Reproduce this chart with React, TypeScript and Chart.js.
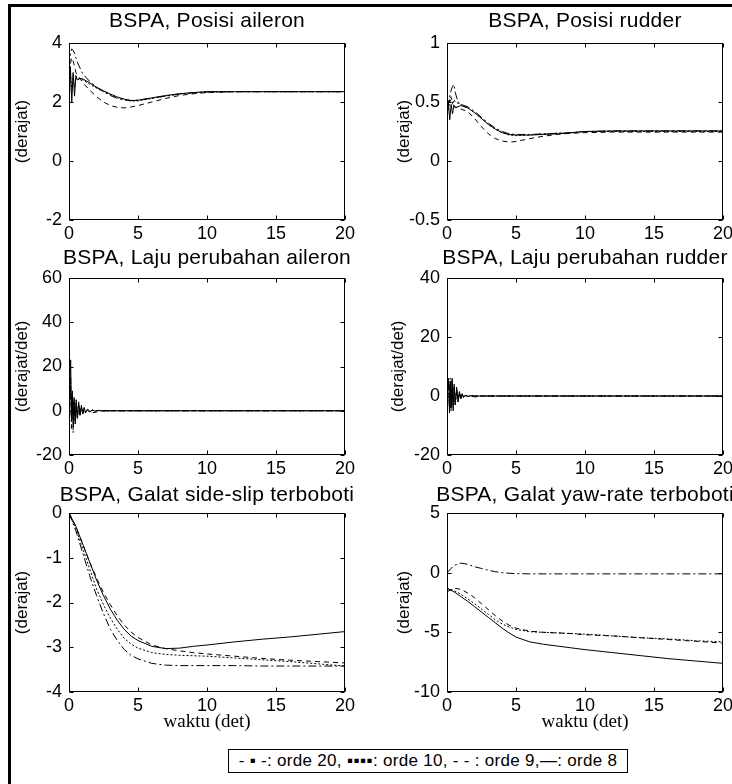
import React, { useEffect, useRef } from "react";
import { Chart, registerables } from "chart.js";
Chart.register(...registerables);

const SANS = '"Liberation Sans", Arial, sans-serif';
const SERIF = '"Liberation Serif", "Times New Roman", serif';

// ---------- DATA ----------
const SERIES_LABELS = ["orde 20", "orde 10", "orde 9", "orde 8"];
const X_TICKS = [0, 5, 10, 15, 20];

// Posisi (aileron / rudder)
const T_POS = [0, 0.1, 0.2, 0.3, 0.4, 0.5, 0.6, 0.8, 1, 1.5, 2, 2.5, 3, 3.5, 4, 4.5, 5, 6, 7, 8, 9, 10, 12, 14, 16, 18, 20];
const AIL_POS_O20 = [3.2, 3.6, 3.8, 3.75, 3.65, 3.5, 3.35, 3.15, 2.95, 2.7, 2.5, 2.35, 2.22, 2.12, 2.07, 2.05, 2.06, 2.13, 2.2, 2.27, 2.31, 2.34, 2.35, 2.35, 2.35, 2.35, 2.35];
const AIL_POS_O10 = [2.2, 3.0, 2.4, 2.9, 2.5, 2.8, 2.75, 2.8, 2.75, 2.6, 2.47, 2.35, 2.25, 2.15, 2.08, 2.03, 2.04, 2.12, 2.2, 2.27, 2.31, 2.34, 2.35, 2.35, 2.35, 2.35, 2.35];
const AIL_POS_O9 = [3.0, 3.3, 3.5, 3.4, 3.2, 3.0, 2.9, 2.8, 2.65, 2.4, 2.18, 2.0, 1.88, 1.82, 1.8, 1.83, 1.88, 2.0, 2.12, 2.22, 2.28, 2.32, 2.35, 2.35, 2.35, 2.35, 2.35];
const AIL_POS_O8 = [1.6, 3.2, 2.0, 3.0, 2.2, 2.9, 2.75, 2.8, 2.78, 2.65, 2.5, 2.38, 2.27, 2.17, 2.1, 2.05, 2.06, 2.14, 2.22, 2.28, 2.32, 2.35, 2.35, 2.35, 2.35, 2.35, 2.35];

const RUD_POS_O20 = [0.45, 0.5, 0.55, 0.6, 0.63, 0.65, 0.58, 0.5, 0.48, 0.46, 0.42, 0.37, 0.32, 0.28, 0.25, 0.23, 0.225, 0.225, 0.23, 0.235, 0.24, 0.25, 0.255, 0.255, 0.255, 0.255, 0.255];
const RUD_POS_O10 = [0.4, 0.45, 0.5, 0.55, 0.48, 0.52, 0.5, 0.49, 0.48, 0.45, 0.41, 0.36, 0.31, 0.27, 0.24, 0.22, 0.215, 0.22, 0.23, 0.235, 0.24, 0.25, 0.25, 0.25, 0.25, 0.25, 0.25];
const RUD_POS_O9 = [0.42, 0.48, 0.52, 0.5, 0.48, 0.47, 0.46, 0.45, 0.44, 0.42, 0.36, 0.29, 0.23, 0.19, 0.17, 0.16, 0.165, 0.19, 0.21, 0.225, 0.235, 0.24, 0.245, 0.245, 0.245, 0.245, 0.245];
const RUD_POS_O8 = [0.32, 0.5, 0.35, 0.48, 0.4, 0.47, 0.45, 0.46, 0.47, 0.45, 0.41, 0.36, 0.31, 0.27, 0.24, 0.225, 0.22, 0.22, 0.225, 0.23, 0.24, 0.25, 0.255, 0.255, 0.255, 0.255, 0.255];

// Laju perubahan (aileron / rudder)
const T_RATE = [0, 0.12, 0.18, 0.24, 0.3, 0.37, 0.45, 0.52, 0.6, 0.7, 0.8, 0.9, 1.0, 1.1, 1.2, 1.35, 1.5, 1.7, 1.9, 2.1, 2.3, 2.5, 5, 10, 20];
const AIL_RATE_O20 = [0, 15, -8, 7, -10, 4, -5, 3, -4, 2, -2, 1.5, -1.2, 1, -0.8, 0.5, -0.4, 0.3, -0.2, 0.1, 0, 0, 0, 0, 0];
const AIL_RATE_O10 = [0, 12, -3, 6, -4, 5, -3, 4, -2, 3, -2, 1.5, -1, 1, -0.6, 0.5, -0.3, 0.2, -0.1, 0.1, 0, 0, 0, 0, 0];
const AIL_RATE_O9 = [0, 10, -5, 5, -3, 4, -4, 3, -2, 2, -1.5, 1, -1, 0.6, -0.5, 0.4, -0.8, -0.9, -0.7, -0.4, -0.2, 0, 0, 0, 0];
const AIL_RATE_O8 = [0, 23, -4, 9, -5, 6, -6, 5, -3, 4, -2, 2.5, -1.5, 1.5, -1, 0.8, -0.6, 0.4, -0.3, 0.2, 0, 0, 0, 0, 0];

const RUD_RATE_O20 = [0, 5, -6, 4, -5, 5, -4, 3, -3, 2, -2, 1, -1, 0.5, -0.5, 0.3, -0.2, 0.1, 0, 0, 0, 0, 0, 0, 0];
const RUD_RATE_O10 = [0, 4, -4, 6, -3, 4, -3, 3, -2, 2, -1, 1, -0.5, 0.5, -0.3, 0.2, -0.1, 0, 0, 0, 0, 0, 0, 0, 0];
const RUD_RATE_O9 = [0, 5, -3, 4, -4, 3, -3, 2, -2, 1.5, -1, 0.8, -0.5, 0.4, -0.2, 0.1, 0, 0, -0.2, -0.3, -0.3, 0, 0, 0, 0];
const RUD_RATE_O8 = [0, 6, -5, 5, -4, 6, -5, 4, -3, 3, -2, 1.5, -1, 0.8, -0.5, 0.3, -0.2, 0.1, 0, 0, 0, 0, 0, 0, 0];

// Galat terboboti (side-slip / yaw-rate)
const T_ERR = [0, 0.5, 1, 1.5, 2, 2.5, 3, 3.5, 4, 4.5, 5, 6, 7, 8, 9, 10, 12, 14, 16, 18, 20];
const SS_O20 = [0, -0.4, -0.9, -1.4, -1.85, -2.25, -2.6, -2.85, -3.05, -3.18, -3.26, -3.36, -3.4, -3.41, -3.41, -3.41, -3.41, -3.42, -3.42, -3.42, -3.42];
const SS_O10 = [0, -0.35, -0.8, -1.25, -1.7, -2.05, -2.35, -2.6, -2.8, -2.93, -3.02, -3.12, -3.16, -3.18, -3.19, -3.2, -3.24, -3.28, -3.32, -3.37, -3.42];
const SS_O9 = [0, -0.3, -0.7, -1.1, -1.45, -1.78, -2.05, -2.3, -2.5, -2.66, -2.78, -2.95, -3.03, -3.08, -3.12, -3.15, -3.2, -3.25, -3.29, -3.32, -3.35];
const SS_O8 = [0, -0.3, -0.7, -1.1, -1.5, -1.85, -2.15, -2.4, -2.6, -2.75, -2.85, -2.98, -3.03, -3.02, -2.98, -2.95, -2.88, -2.82, -2.77, -2.71, -2.65];

const YR_O20 = [0, 0.6, 0.8, 0.7, 0.5, 0.35, 0.2, 0.08, 0, -0.05, -0.08, -0.1, -0.1, -0.1, -0.1, -0.1, -0.1, -0.1, -0.1, -0.1, -0.1];
const YR_O10 = [-1.3, -1.5, -1.8, -2.2, -2.6, -3.05, -3.5, -3.95, -4.3, -4.55, -4.75, -4.95, -5.0, -5.05, -5.1, -5.15, -5.3, -5.45, -5.55, -5.7, -5.8];
const YR_O9 = [-1.6, -1.3, -1.4, -1.7, -2.1, -2.6, -3.1, -3.6, -4.05, -4.4, -4.65, -4.9, -5.0, -5.05, -5.1, -5.2, -5.3, -5.45, -5.6, -5.75, -5.9];
const YR_O8 = [-1.3, -1.6, -2.0, -2.4, -2.85, -3.3, -3.75, -4.2, -4.65, -5.05, -5.4, -5.8, -6.0, -6.15, -6.3, -6.45, -6.7, -6.95, -7.2, -7.4, -7.6];

// ---------- STYLE / LAYOUT ----------
const SERIES_DASH = [[8, 3, 2, 3], [2, 2], [5, 4], []];
const ROW_TOP = [43, 278, 513];
const ROW_BOTTOM = [220, 455, 692];
const COL_LEFT = [69, 447];
const COL_RIGHT = [345, 723];
const TITLE_SPACE = 40;
const Y_W = 62;
const PAD_R = 20;

type Spec = {
  title: string;
  yLabel: string;
  row: number;
  col: number;
  t: number[];
  series: number[][];
  yMin: number;
  yMax: number;
  yStep: number;
  titleGap: number;
  yTitlePad: number;
  xLabel?: string;
};

const SPECS: Spec[] = [
  { title: "BSPA, Posisi aileron", yLabel: "(derajat)", row: 0, col: 0, t: T_POS,
    series: [AIL_POS_O20, AIL_POS_O10, AIL_POS_O9, AIL_POS_O8], yMin: -2, yMax: 4, yStep: 2, titleGap: 16, yTitlePad: 5 },
  { title: "BSPA, Posisi rudder", yLabel: "(derajat)", row: 0, col: 1, t: T_POS,
    series: [RUD_POS_O20, RUD_POS_O10, RUD_POS_O9, RUD_POS_O8], yMin: -0.5, yMax: 1, yStep: 0.5, titleGap: 16, yTitlePad: 9 },
  { title: "BSPA, Laju perubahan aileron", yLabel: "(derajat/det)", row: 1, col: 0, t: T_RATE,
    series: [AIL_RATE_O20, AIL_RATE_O10, AIL_RATE_O9, AIL_RATE_O8], yMin: -20, yMax: 60, yStep: 20, titleGap: 14, yTitlePad: 5 },
  { title: "BSPA, Laju perubahan rudder", yLabel: "(derajat/det)", row: 1, col: 1, t: T_RATE,
    series: [RUD_RATE_O20, RUD_RATE_O10, RUD_RATE_O9, RUD_RATE_O8], yMin: -20, yMax: 40, yStep: 20, titleGap: 14, yTitlePad: 3 },
  { title: "BSPA, Galat side-slip terboboti", yLabel: "(derajat)", row: 2, col: 0, t: T_ERR,
    series: [SS_O20, SS_O10, SS_O9, SS_O8], yMin: -4, yMax: 0, yStep: 1, titleGap: 12, yTitlePad: 5, xLabel: "waktu (det)" },
  { title: "BSPA, Galat yaw-rate terboboti", yLabel: "(derajat)", row: 2, col: 1, t: T_ERR,
    series: [YR_O20, YR_O10, YR_O9, YR_O8], yMin: -10, yMax: 5, yStep: 5, titleGap: 12, yTitlePad: 9, xLabel: "waktu (det)" },
];

const boxPlugin = {
  id: "boxTicks",
  afterDraw(chart: any, _args: any, opts: any) {
    const { ctx, chartArea: a, scales } = chart;
    ctx.save();
    ctx.strokeStyle = "#000";
    ctx.lineWidth = 1;
    ctx.setLineDash([]);
    const L = Math.round(a.left) + 0.5;
    const R = Math.round(a.right) - 0.5;
    const T = Math.round(a.top) + 0.5;
    const B = Math.round(a.bottom) - 0.5;
    ctx.strokeRect(L, T, R - L, B - T);
    const len = 4;
    ctx.beginPath();
    for (const tk of scales.x.ticks) {
      const px = Math.round(scales.x.getPixelForValue(tk.value)) + 0.5;
      ctx.moveTo(px, B);
      ctx.lineTo(px, B - len);
      ctx.moveTo(px, T);
      ctx.lineTo(px, T + len);
    }
    for (const tk of scales.y.ticks) {
      const py = Math.round(scales.y.getPixelForValue(tk.value)) + 0.5;
      ctx.moveTo(L, py);
      ctx.lineTo(L + len, py);
      ctx.moveTo(R, py);
      ctx.lineTo(R - len, py);
    }
    ctx.stroke();
    ctx.fillStyle = "#000";
    ctx.font = `21px ${SANS}`;
    try {
      (ctx as any).letterSpacing = "0.25px";
    } catch (e) {}
    ctx.textAlign = "center";
    ctx.textBaseline = "alphabetic";
    ctx.fillText(opts.title, (a.left + a.right) / 2, a.top - opts.gap);
    ctx.restore();
  },
};

function Plot({ spec }: { spec: Spec }) {
  const ref = useRef<HTMLCanvasElement>(null);
  const top = ROW_TOP[spec.row];
  const bottom = ROW_BOTTOM[spec.row];
  const left = COL_LEFT[spec.col];
  const right = COL_RIGHT[spec.col];
  const xH = spec.xLabel ? 44 : 30;
  const cLeft = left - Y_W;
  const cTop = top - TITLE_SPACE;
  const cW = Y_W + (right - left) + PAD_R;
  const cH = TITLE_SPACE + (bottom - top) + xH;

  useEffect(() => {
    const canvas = ref.current;
    if (!canvas) return;
    const chart = new Chart(canvas, {
      type: "line",
      data: {
        datasets: spec.series.map((ys, i) => ({
          label: SERIES_LABELS[i],
          data: spec.t.map((x, j) => ({ x, y: ys[j] })),
          borderColor: "#000",
          borderWidth: 1,
          borderDash: SERIES_DASH[i],
          pointRadius: 0,
          tension: 0,
          fill: false,
        })),
      },
      options: {
        animation: false,
        responsive: false,
        events: [],
        layout: { padding: { top: TITLE_SPACE, right: PAD_R, bottom: 0, left: 0 } },
        plugins: {
          legend: { display: false },
          tooltip: { enabled: false },
          title: { display: false },
          boxTicks: { title: spec.title, gap: spec.titleGap },
        } as any,
        scales: {
          x: {
            type: "linear",
            min: 0,
            max: 20,
            afterBuildTicks: (s: any) => {
              s.ticks = X_TICKS.map((v) => ({ value: v }));
            },
            afterFit: (s: any) => {
              s.height = xH;
            },
            grid: { display: false, drawTicks: false },
            border: { display: false },
            ticks: {
              color: "#000",
              font: { family: SANS, size: 18 },
              padding: 3,
              maxRotation: 0,
              callback: (v: any) => `${Number(v)}`,
            },
            title: spec.xLabel
              ? { display: true, text: spec.xLabel, color: "#000", font: { family: SERIF, size: 19 }, padding: { top: 0, bottom: 3 } }
              : { display: false },
          },
          y: {
            type: "linear",
            min: spec.yMin,
            max: spec.yMax,
            ticks: {
              stepSize: spec.yStep,
              color: "#000",
              font: { family: SANS, size: 18 },
              padding: 7,
              callback: (v: any) => `${Number(v)}`,
            },
            afterFit: (s: any) => {
              s.width = Y_W;
            },
            grid: { display: false, drawTicks: false },
            border: { display: false },
            title: {
              display: true,
              text: spec.yLabel,
              color: "#000",
              font: { family: SANS, size: 17 },
              padding: { top: spec.yTitlePad, bottom: 0 },
            },
          },
        },
      },
      plugins: [boxPlugin],
    } as any);
    return () => chart.destroy();
  }, []);

  return (
    <canvas
      ref={ref}
      width={cW}
      height={cH}
      style={{ position: "absolute", left: cLeft, top: cTop, width: cW, height: cH }}
    />
  );
}

export default function App() {
  return (
    <div
      style={{
        position: "absolute",
        left: 0,
        top: 0,
        width: 732,
        height: 784,
        overflow: "hidden",
        background: "#fff",
      }}
    >
      <div
        style={{
          position: "absolute",
          left: 8,
          top: 4,
          width: 740,
          height: 800,
          borderLeft: "3px solid #000",
          borderTop: "3px solid #000",
          boxSizing: "border-box",
        }}
      />
      {SPECS.map((s, i) => (
        <Plot key={i} spec={s} />
      ))}
      <div
        style={{
          position: "absolute",
          left: 228,
          top: 749,
          width: 400,
          height: 24,
          border: "1px solid #000",
          boxSizing: "border-box",
          fontFamily: SANS,
          fontSize: 17,
          lineHeight: "22px",
          textAlign: "center",
          whiteSpace: "nowrap",
          color: "#000",
          background: "#fff",
          letterSpacing: "0.3px",
        }}
      >
        {"- \u25AA -: orde 20, "}
        <span style={{ letterSpacing: "0.5px" }}>{"\u25AA\u25AA\u25AA\u25AA"}</span>
        {": orde 10, - - : orde 9,\u2014: orde 8"}
      </div>
    </div>
  );
}
